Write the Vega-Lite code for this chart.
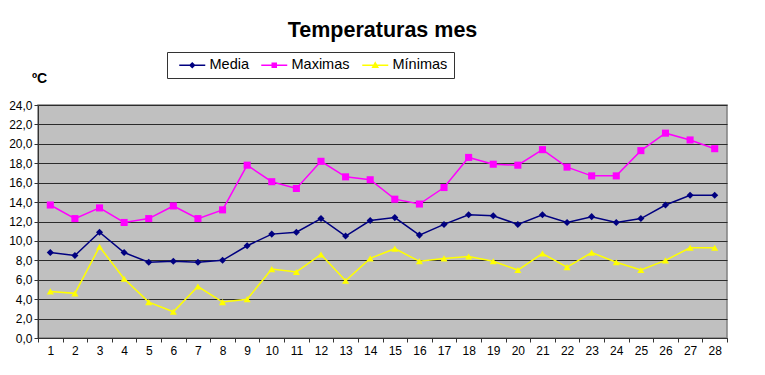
{
  "$schema": "https://vega.github.io/schema/vega-lite/v6.json",
  "autosize": "none",
  "width": 689,
  "height": 233,
  "padding": {"left": 38, "top": 105, "right": 38, "bottom": 37},
  "background": "white",
  "title": {
    "text": "Temperaturas mes",
    "font": "Liberation Sans",
    "fontSize": 21.5,
    "fontWeight": "bold",
    "color": "black",
    "anchor": "middle",
    "offset": 10
  },
  "config": {
    "view": {"fill": "#C0C0C0", "stroke": "#808080", "strokeWidth": 1.5},
    "axis": {"labelFont": "Liberation Sans", "labelColor": "black", "titleFont": "Liberation Sans", "titleColor": "black", "domainColor": "#333333", "tickColor": "#333333"}
  },
  "data": {
    "values": [
      {"dia": 1, "Media": 8.8, "Maximas": 13.7, "Mínimas": 4.8},
      {"dia": 2, "Media": 8.5, "Maximas": 12.3, "Mínimas": 4.6},
      {"dia": 3, "Media": 10.9, "Maximas": 13.4, "Mínimas": 9.4},
      {"dia": 4, "Media": 8.8, "Maximas": 11.9, "Mínimas": 6.1},
      {"dia": 5, "Media": 7.8, "Maximas": 12.3, "Mínimas": 3.7},
      {"dia": 6, "Media": 7.9, "Maximas": 13.6, "Mínimas": 2.7},
      {"dia": 7, "Media": 7.8, "Maximas": 12.3, "Mínimas": 5.3},
      {"dia": 8, "Media": 8.0, "Maximas": 13.2, "Mínimas": 3.7},
      {"dia": 9, "Media": 9.5, "Maximas": 17.8, "Mínimas": 4.0},
      {"dia": 10, "Media": 10.7, "Maximas": 16.1, "Mínimas": 7.1},
      {"dia": 11, "Media": 10.9, "Maximas": 15.4, "Mínimas": 6.8},
      {"dia": 12, "Media": 12.3, "Maximas": 18.2, "Mínimas": 8.6},
      {"dia": 13, "Media": 10.5, "Maximas": 16.6, "Mínimas": 5.9},
      {"dia": 14, "Media": 12.1, "Maximas": 16.3, "Mínimas": 8.2},
      {"dia": 15, "Media": 12.4, "Maximas": 14.3, "Mínimas": 9.2},
      {"dia": 16, "Media": 10.6, "Maximas": 13.8, "Mínimas": 7.9},
      {"dia": 17, "Media": 11.7, "Maximas": 15.5, "Mínimas": 8.2},
      {"dia": 18, "Media": 12.7, "Maximas": 18.6, "Mínimas": 8.4},
      {"dia": 19, "Media": 12.6, "Maximas": 17.9, "Mínimas": 7.9},
      {"dia": 20, "Media": 11.7, "Maximas": 17.8, "Mínimas": 7.0},
      {"dia": 21, "Media": 12.7, "Maximas": 19.4, "Mínimas": 8.7},
      {"dia": 22, "Media": 11.9, "Maximas": 17.6, "Mínimas": 7.3},
      {"dia": 23, "Media": 12.5, "Maximas": 16.7, "Mínimas": 8.8},
      {"dia": 24, "Media": 11.9, "Maximas": 16.7, "Mínimas": 7.8},
      {"dia": 25, "Media": 12.3, "Maximas": 19.3, "Mínimas": 7.0},
      {"dia": 26, "Media": 13.7, "Maximas": 21.1, "Mínimas": 8.0},
      {"dia": 27, "Media": 14.7, "Maximas": 20.4, "Mínimas": 9.3},
      {"dia": 28, "Media": 14.7, "Maximas": 19.5, "Mínimas": 9.3}
    ]
  },
  "transform": [{"fold": ["Media", "Maximas", "Mínimas"], "as": ["serie", "valor"]}],
  "encoding": {
    "x": {
      "field": "dia",
      "type": "ordinal",
      "scale": {"type": "band", "paddingInner": 0, "paddingOuter": 0},
      "axis": {"title": null, "labelAngle": 0, "tickBand": "extent", "tickSize": 4, "labelFontSize": 12, "labelPadding": 3, "grid": false}
    },
    "y": {
      "field": "valor",
      "type": "quantitative",
      "scale": {"domain": [0, 24], "nice": false, "zero": true},
      "axis": {
        "values": [0, 2, 4, 6, 8, 10, 12, 14, 16, 18, 20, 22, 24],
        "labelExpr": "replace(format(datum.value, '.1f'), '.', ',')",
        "labelFontSize": 12,
        "labelPadding": 2,
        "tickSize": 4,
        "grid": true,
        "gridColor": "#2b2b2b",
        "gridOpacity": 1,
        "gridWidth": 1,
        "title": "ºC",
        "titleAngle": 0,
        "titleFontSize": 14,
        "titleFontWeight": "bold",
        "titleAlign": "center",
        "titleBaseline": "middle",
        "titleX": 1,
        "titleY": -27
      }
    },
    "color": {
      "field": "serie",
      "type": "nominal",
      "scale": {"domain": ["Media", "Maximas", "Mínimas"], "range": ["#000080", "#FF00FF", "#FFFF00"]},
      "legend": {
        "title": null,
        "orient": "none",
        "legendX": 129,
        "legendY": -53,
        "direction": "horizontal",
        "gridAlign": "none",
        "strokeColor": "#333333",
        "fillColor": "white",
        "padding": 6,
        "columnPadding": 6,
        "labelFont": "Liberation Sans",
        "labelFontSize": 14.5,
        "labelColor": "black",
        "labelOffset": 10,
        "symbolOffset": 12,
        "symbolSize": 100,
        "symbolStrokeWidth": 1.5,
        "symbolType": "M-2.6,0H2.6",
        "encode": {
          "symbols": {
            "update": {
              "shape": {"signal": "datum.value === 'Media' ? 'M-2.6,0H2.6M0,-0.45L0.45,0L0,0.45L-0.45,0Z' : datum.value === 'Maximas' ? 'M-2.6,0H2.6M-0.4,-0.4H0.4V0.4H-0.4Z' : 'M-2.6,0H2.6M0,-0.5L0.5,0.4H-0.5Z'"},
              "fill": {"signal": "scale('color', datum.value)"},
              "fillOpacity": {"value": 1}
            }
          }
        }
      }
    }
  },
  "layer": [
    {"mark": {"type": "line", "strokeWidth": 1.5}},
    {
      "mark": {"type": "point", "filled": true, "opacity": 1, "size": 50},
      "encoding": {
        "shape": {
          "condition": [
            {"test": "datum.serie === 'Media'", "value": "diamond"},
            {"test": "datum.serie === 'Maximas'", "value": "square"}
          ],
          "value": "triangle-up"
        }
      }
    }
  ]
}
